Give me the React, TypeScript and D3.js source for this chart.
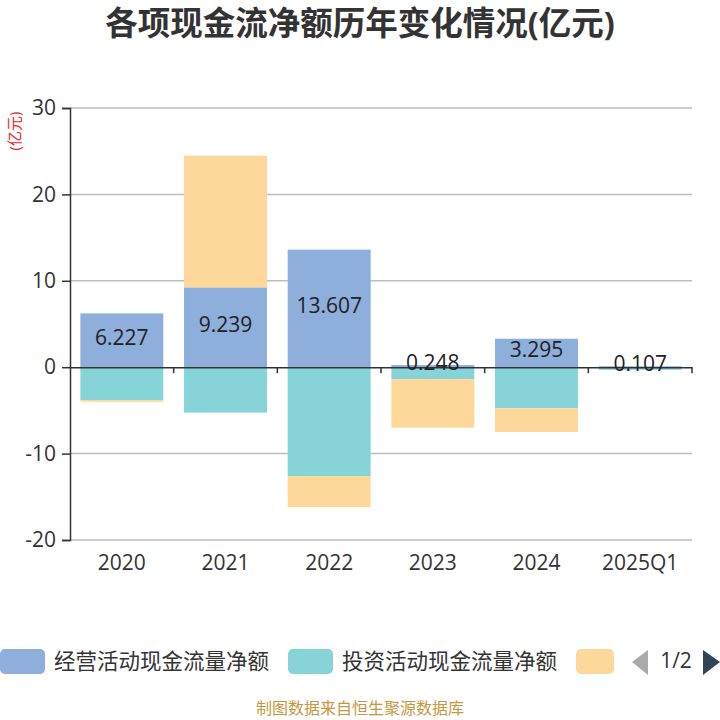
import React, { useRef, useEffect } from "react"
import * as d3 from "d3"

const categories = ["2020", "2021", "2022", "2023", "2024", "2025Q1"]
const seriesNames = ["经营活动现金流量净额", "投资活动现金流量净额", "筹资活动现金流量净额"]
const operating = [6.227, 9.239, 13.607, 0.248, 3.295, 0.107]
const investing = [-3.8, -5.26, -12.6, -1.37, -4.76, -0.3]
const financing = [-0.2, 15.24, -3.6, -5.63, -2.74, 0]
const yTicks = [30, 20, 10, 0, -10, -20]
const colors = ["#8eaedb", "#87d4d8", "#fdd89a"]

const App: React.FC = () => {
  const svgRef = useRef<SVGSVGElement>(null)

  useEffect(() => {
    const svg = d3.select(svgRef.current)
    svg.selectAll("*").remove()

    const left = 70, right = 692, top = 108, bottom = 540
    const font = "'Open Sans', 'Noto Sans CJK SC', sans-serif"

    const x = d3.scaleBand().domain(categories).range([left, right]).paddingInner(0.2).paddingOuter(0.1)
    const y = d3.scaleLinear().domain([-20, 30]).range([bottom, top])

    // title
    svg.append("text")
      .attr("x", 360).attr("y", 35)
      .attr("text-anchor", "middle")
      .attr("font-family", font).attr("font-weight", "bold")
      .attr("font-size", 32.5).attr("fill", "#333")
      .text("各项现金流净额历年变化情况(亿元)")

    // unit
    svg.append("text")
      .attr("transform", "translate(20,131) rotate(-90)")
      .attr("text-anchor", "middle")
      .attr("font-family", font).attr("font-size", 15).attr("fill", "#e8222a")
      .text("(亿元)")

    // grid
    svg.append("g").selectAll("line")
      .data(yTicks.filter(d => d !== 0))
      .enter().append("line")
      .attr("x1", left).attr("x2", right)
      .attr("y1", d => y(d)).attr("y2", d => y(d))
      .attr("stroke", "#bdbdbd").attr("stroke-width", 1.5)

    // stacks
    const series = [operating, investing, financing]
    categories.forEach((c, i) => {
      let pos = 0, neg = 0
      series.forEach((s, k) => {
        const v = s[i]
        if (v === 0) return
        let y0, y1
        if (v >= 0) { y0 = pos; y1 = pos + v; pos = y1 } else { y0 = neg; y1 = neg + v; neg = y1 }
        const h = Math.max(Math.abs(y(y0) - y(y1)), 1)
        svg.append("rect")
          .attr("x", x(c)!)
          .attr("y", Math.min(y(y0), y(y1)))
          .attr("width", x.bandwidth())
          .attr("height", h)
          .attr("fill", colors[k])
      })
    })

    // y axis
    const yAxis = svg.append("g")
      .attr("transform", `translate(${left},0)`)
      .call(d3.axisLeft(y).tickValues(yTicks).tickSize(8).tickPadding(6).tickFormat(d => String(d)))
    yAxis.select(".domain").attr("stroke", "#333").attr("stroke-width", 1.5)
    yAxis.selectAll(".tick line").attr("stroke", "#333").attr("stroke-width", 1.5)
    yAxis.selectAll("text").attr("font-family", font).attr("font-size", 21).attr("fill", "#333")

    // x axis at zero
    const xAxis = svg.append("g")
      .attr("transform", `translate(0,${y(0)})`)
      .call(d3.axisBottom(x).tickSize(0).tickFormat(() => ""))
    xAxis.select(".domain").attr("stroke", "#333").attr("stroke-width", 1.5)
    const step = x.step()
    svg.append("g").selectAll("line")
      .data(categories)
      .enter().append("line")
      .attr("x1", (d, i) => left + step * (i + 1))
      .attr("x2", (d, i) => left + step * (i + 1))
      .attr("y1", y(0)).attr("y2", y(0) + 6)
      .attr("stroke", "#333").attr("stroke-width", 1.5)

    // x labels
    svg.append("g").selectAll("text")
      .data(categories)
      .enter().append("text")
      .attr("x", d => x(d)! + x.bandwidth() / 2)
      .attr("y", 570)
      .attr("text-anchor", "middle")
      .attr("font-family", font).attr("font-size", 21).attr("fill", "#333")
      .text(d => d)

    // value labels
    svg.append("g").selectAll("text")
      .data(operating)
      .enter().append("text")
      .attr("x", (d, i) => x(categories[i])! + x.bandwidth() / 2)
      .attr("y", d => (y(0) + y(d)) / 2 - 3)
      .attr("dy", "0.35em")
      .attr("text-anchor", "middle")
      .attr("font-family", font).attr("font-size", 21).attr("fill", "#222")
      .text(d => d.toFixed(3))

    // legend
    const lg = svg.append("g")
    const items = [
      { x: 0, text: seriesNames[0], color: colors[0] },
      { x: 288, text: seriesNames[1], color: colors[1] },
    ]
    items.forEach(it => {
      lg.append("rect").attr("x", it.x).attr("y", 649).attr("width", 45).attr("height", 25)
        .attr("rx", 5).attr("fill", it.color)
      lg.append("text").attr("x", it.x + 54).attr("y", 669)
        .attr("font-family", font).attr("font-size", 21.5).attr("fill", "#333").text(it.text)
    })
    lg.append("rect").attr("x", 576).attr("y", 649).attr("width", 38).attr("height", 25)
      .attr("rx", 5).attr("fill", colors[2])
    lg.append("path").attr("d", "M 632 662 L 648 650 L 648 675 Z").attr("fill", "#aaa")
    lg.append("text").attr("x", 676).attr("y", 668).attr("text-anchor", "middle")
      .attr("font-family", font).attr("font-size", 21).attr("fill", "#333").text("1/2")
    lg.append("path").attr("d", "M 703 650 L 720 662 L 703 675 Z").attr("fill", "#2f4554")

    // footer
    svg.append("text")
      .attr("x", 360).attr("y", 714)
      .attr("text-anchor", "middle")
      .attr("font-family", font).attr("font-size", 16).attr("fill", "#c8963e")
      .text("制图数据来自恒生聚源数据库")
  }, [])

  return (
    <div style={{ position: "absolute", left: 0, top: 0 }}>
      <svg ref={svgRef} width={720} height={720} style={{ display: "block", background: "#fff" }} />
    </div>
  )
}

export default App
